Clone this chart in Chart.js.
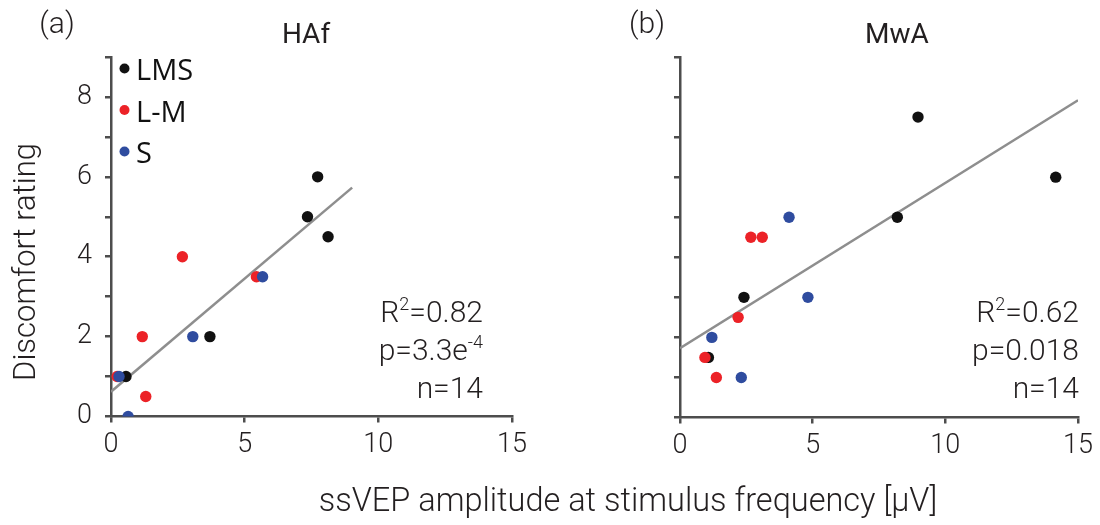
<!DOCTYPE html>
<html><head><meta charset="utf-8">
<script src="https://cdn.jsdelivr.net/npm/chart.js@4.4.1/dist/chart.umd.min.js"></script>
<style>
html,body{margin:0;padding:0;background:#fff;}
#wrap{position:relative;width:1100px;height:525px;overflow:hidden;}
canvas{position:absolute;left:0;top:0;}
</style></head><body>
<div id="wrap"><canvas id="ca" width="1100" height="525"></canvas><canvas id="cb" width="1100" height="525"></canvas></div>
<script>
// ---- data ----
const seriesNames = ['LMS', 'L-M', 'S'];
const seriesColors = ['#111111', '#ec2227', '#2f4c9f'];

// Panel (a) HAf
const hafLmsX = [7.73, 7.35, 8.12, 3.70, 0.56];
const hafLmsY = [6, 5, 4.5, 2, 1];
const hafLmX  = [2.67, 5.44, 1.17, 1.30, 0.23];
const hafLmY  = [4, 3.5, 2, 0.5, 1];
const hafSX   = [5.67, 3.06, 0.30, 0.64];
const hafSY   = [3.5, 2, 1, 0];
const hafFitX = [0, 9.02];
const hafFitY = [0.62, 5.73];

// Panel (b) MwA
const mwaLmsX = [8.97, 14.16, 8.19, 2.41, 1.07];
const mwaLmsY = [7.5, 6, 5, 3, 1.5];
const mwaLmX  = [2.67, 3.10, 2.19, 0.94, 1.37];
const mwaLmY  = [4.5, 4.5, 2.5, 1.5, 1];
const mwaSX   = [4.11, 4.82, 1.20, 2.31];
const mwaSY   = [5, 3, 2, 1];
const mwaFitX = [0, 15];
const mwaFitY = [1.73, 7.92];

const xTicks = [0, 5, 10, 15];
const yTickLabels = [0, 2, 4, 6, 8];
const panelTitles = ['HAf', 'MwA'];
const panelLetters = ['(a)', '(b)'];
const statsA = ['R^{2}=0.82', 'p=3.3e^{-4}', 'n=14'];
const statsB = ['R^{2}=0.62', 'p=0.018', 'n=14'];
const yTitle = 'Discomfort rating';
const xTitle = 'ssVEP amplitude at stimulus frequency [μV]';

// ---- helpers ----
const zip = (xs, ys) => xs.map((x, i) => ({x: x, y: ys[i]}));
const TXT = '#231f20';
const AX = '#4d4d4d';
const LIGHT = 'Roboto, "Liberation Sans", sans-serif';

function parseRich(s) {
  const parts = [];
  const re = /\^\{([^}]*)\}/g;
  let last = 0, m;
  while ((m = re.exec(s)) !== null) {
    if (m.index > last) parts.push([s.slice(last, m.index), false]);
    parts.push([m[1], true]);
    last = re.lastIndex;
  }
  if (last < s.length) parts.push([s.slice(last), false]);
  return parts;
}

const panelText = {
  id: 'panelText',
  afterDraw(chart, args, o) {
    const ctx = chart.ctx;
    ctx.save();
    ctx.textBaseline = 'alphabetic';
    ctx.fillStyle = TXT;
    // panel letter
    ctx.font = '300 30px ' + LIGHT;
    ctx.textAlign = 'center';
    ctx.fillText(o.letter, o.letterX, 33);
    // title
    ctx.font = '400 28px ' + LIGHT;
    ctx.fillText(o.title, o.titleX, 43);
    // stats (right aligned, with superscripts)
    const base = [322, 360, 398];
    const big = '300 30px ' + LIGHT, small = '300 18px ' + LIGHT;
    o.stats.forEach((line, i) => {
      const parts = parseRich(line);
      let w = 0;
      parts.forEach(p => { ctx.font = p[1] ? small : big; w += ctx.measureText(p[0]).width; });
      let x = o.statsRight - w;
      ctx.textAlign = 'left';
      parts.forEach(p => {
        ctx.font = p[1] ? small : big;
        ctx.fillText(p[0], x, base[i] - (p[1] ? 12 : 0));
        x += ctx.measureText(p[0]).width;
      });
    });
    // legend
    if (o.legend) {
      const items = chart.data.datasets.filter(d => d.inLegend);
      items.forEach((d, i) => {
        const by = 80 + i * 41.5;
        ctx.beginPath();
        ctx.fillStyle = d.backgroundColor;
        ctx.arc(124.5, by - 11.5, 5, 0, Math.PI * 2);
        ctx.fill();
        ctx.fillStyle = '#111';
        ctx.font = '400 29px "Open Sans", sans-serif';
        ctx.textAlign = 'left';
        ctx.fillText(d.label, 136, by);
      });
    }
    // axis titles
    ctx.fillStyle = TXT;
    if (o.yTitle) {
      ctx.save();
      ctx.translate(35, 262);
      ctx.rotate(-Math.PI / 2);
      ctx.font = '300 31px ' + LIGHT;
      ctx.textAlign = 'center';
      ctx.fillText(o.yTitle, 0, 0);
      ctx.restore();
    }
    if (o.xTitle) {
      ctx.font = '300 32.5px ' + LIGHT;
      ctx.textAlign = 'center';
      ctx.fillText(o.xTitle, 628, 511);
    }
    ctx.restore();
  }
};

function makeChart(id, d, opt) {
  const datasets = [
    {label: seriesNames[0], data: zip(d.lmsX, d.lmsY), backgroundColor: seriesColors[0], order: 3, inLegend: true},
    {label: seriesNames[1], data: zip(d.lmX, d.lmY), backgroundColor: seriesColors[1], order: 2, inLegend: true},
    {label: seriesNames[2], data: zip(d.sX, d.sY), backgroundColor: seriesColors[2], order: 1, inLegend: true},
    {label: 'fit', data: zip(d.fitX, d.fitY), showLine: true, borderColor: '#8e8e8e', borderWidth: 2.5,
     pointRadius: 0, order: 4, inLegend: false}
  ];
  datasets.forEach(ds => { if (ds.inLegend) { ds.pointRadius = 5.7; ds.borderWidth = 0; ds.pointHoverRadius = 5.7; } });
  return new Chart(document.getElementById(id), {
    type: 'scatter',
    data: {datasets: datasets},
    options: {
      responsive: false,
      animation: false,
      events: [],
      layout: {padding: {left: 0, top: 57, right: opt.padRight, bottom: 0}},
      plugins: {legend: {display: false}, tooltip: {enabled: false}, panelText: opt.text},
      scales: {
        x: {
          type: 'linear', min: 0, max: 15,
          afterBuildTicks: s => { s.ticks = xTicks.map(v => ({value: v})); },
          afterFit: s => { s.height = opt.xAxisH; },
          ticks: {font: {family: LIGHT, size: 27, weight: '300'}, color: TXT, padding: 7, maxRotation: 0, autoSkip: false},
          grid: {drawOnChartArea: false, drawTicks: true, tickLength: 6, color: AX, lineWidth: 2.5},
          border: {display: true, color: AX, width: 2.5}
        },
        y: {
          type: 'linear', min: 0, max: 9,
          afterFit: s => { s.width = opt.yAxisW; },
          ticks: {stepSize: 1, font: {family: LIGHT, size: 27, weight: '300'}, color: TXT, padding: 13,
                  callback: v => (opt.yLabels && yTickLabels.includes(v)) ? String(v) : ''},
          grid: {drawOnChartArea: false, drawTicks: true, tickLength: 6, color: AX, lineWidth: 2.5},
          border: {display: true, color: AX, width: 2.5}
        }
      }
    },
    plugins: [panelText]
  });
}

makeChart('ca',
  {lmsX: hafLmsX, lmsY: hafLmsY, lmX: hafLmX, lmY: hafLmY, sX: hafSX, sY: hafSY, fitX: hafFitX, fitY: hafFitY},
  {padRight: 1100 - 512, xAxisH: 525 - 416.5, yAxisW: 111, yLabels: true,
   text: {letter: panelLetters[0], letterX: 57, title: panelTitles[0], titleX: 306, stats: statsA, statsRight: 483,
          legend: true, yTitle: yTitle, xTitle: xTitle}});

makeChart('cb',
  {lmsX: mwaLmsX, lmsY: mwaLmsY, lmX: mwaLmX, lmY: mwaLmY, sX: mwaSX, sY: mwaSY, fitX: mwaFitX, fitY: mwaFitY},
  {padRight: 1100 - 1080, xAxisH: 525 - 417.5, yAxisW: 680, yLabels: false,
   text: {letter: panelLetters[1], letterX: 647, title: panelTitles[1], titleX: 897, stats: statsB, statsRight: 1079,
          legend: false}});
</script>
</body></html>
